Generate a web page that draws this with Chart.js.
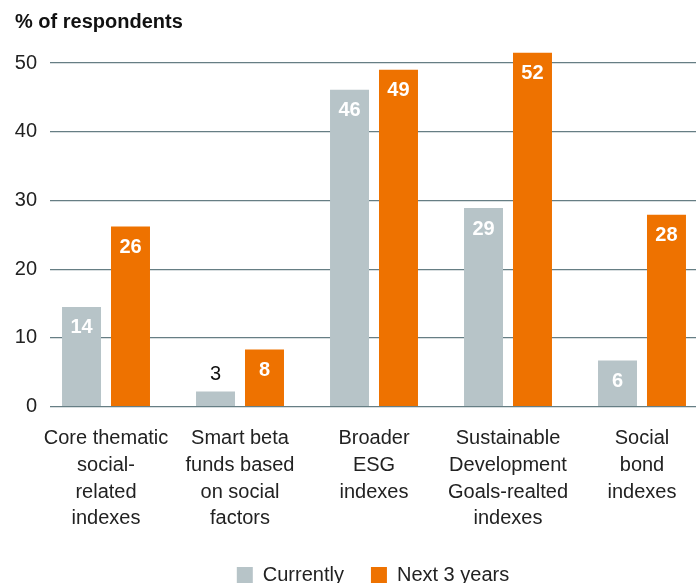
<!DOCTYPE html>
<html>
<head>
<meta charset="utf-8">
<script src="https://cdn.jsdelivr.net/npm/chart.js@4/dist/chart.umd.min.js"></script>
<style>
  html, body { margin: 0; padding: 0; background: #ffffff; overflow: hidden; }
  #wrap { position: relative; width: 696px; height: 608px; }
</style>
</head>
<body>
<div id="wrap"><canvas id="c"></canvas></div>
<script>
// ---- Data ----
const categories = [
  ["Core thematic", "social-", "related", "indexes"],
  ["Smart beta", "funds based", "on social", "factors"],
  ["Broader", "ESG", "indexes"],
  ["Sustainable", "Development", "Goals-realted", "indexes"],
  ["Social", "bond", "indexes"]
];
const seriesNames = ["Currently", "Next 3 years"];
const currentlyValues = [14.5, 2.2, 46.1, 28.9, 6.7];
const nextValues = [26.2, 8.3, 49.0, 51.5, 27.9];
const currentlyLabels = [14, 3, 46, 29, 6];
const nextLabels = [26, 8, 49, 52, 28];
const yTicks = [0, 10, 20, 30, 40, 50];
const titleText = "% of respondents";

const GRAY = "#b7c4c8";
const ORANGE = "#ee7200";
const GRID = "#667e84";
const TEXT = "#222222";
const FONT = "'Liberation Sans', Arial, Helvetica, sans-serif";

const toPoints = (vals) => vals.map((v, i) => ({ x: i, y: v }));

const barLabels = {
  id: "barLabels",
  afterDatasetsDraw(chart) {
    const ctx = chart.ctx;
    const labelSets = [currentlyLabels, nextLabels];
    chart.data.datasets.forEach((ds, di) => {
      const meta = chart.getDatasetMeta(di);
      meta.data.forEach((bar, i) => {
        const txt = String(labelSets[di][i]);
        const h = bar.base - bar.y;
        ctx.save();
        ctx.textAlign = "center";
        ctx.textBaseline = "middle";
        if (h < 30) {
          ctx.fillStyle = "#111111";
          ctx.font = "20px " + FONT;
          ctx.fillText(txt, bar.x, bar.y - 17);
        } else {
          ctx.fillStyle = "#ffffff";
          ctx.font = "bold 20px " + FONT;
          ctx.fillText(txt, bar.x, bar.y + 21);
        }
        ctx.restore();
      });
    });
  }
};

// nudge the legend a little upwards after layout
const legendShift = {
  id: "legendShift",
  afterLayout(chart) {
    if (chart.legend) {
      chart.legend.top -= 13;
      chart.legend.bottom -= 13;
    }
  }
};

new Chart(document.getElementById("c"), {
  type: "bar",
  data: {
    datasets: [
      { label: seriesNames[0], data: toPoints(currentlyValues), backgroundColor: GRAY, clip: false,
        categoryPercentage: 0.731, barPercentage: 0.796 },
      { label: seriesNames[1], data: toPoints(nextValues), backgroundColor: ORANGE, clip: false,
        categoryPercentage: 0.731, barPercentage: 0.796 }
    ]
  },
  options: {
    responsive: true,
    maintainAspectRatio: false,
    animation: false,
    layout: { padding: { left: 15, right: 0, top: 0, bottom: 0 } },
    plugins: {
      title: {
        display: true,
        text: titleText,
        align: "start",
        color: "#111111",
        font: { family: FONT, size: 20, weight: "bold" },
        padding: { top: 10, bottom: 29 }
      },
      legend: {
        position: "bottom",
        fullSize: false,
        labels: {
          boxWidth: 16,
          boxHeight: 16,
          padding: 27,
          color: TEXT,
          font: { family: FONT, size: 20 }
        }
      },
      tooltip: { enabled: false }
    },
    scales: {
      x: {
        type: "linear",
        offset: false,
        min: -0.418,
        max: 4.403,
        grid: { display: false, drawTicks: false },
        border: { display: false },
        afterBuildTicks: (scale) => { scale.ticks = categories.map((_, i) => ({ value: i })); },
        afterFit: (scale) => { scale.paddingLeft = 0; scale.paddingRight = 0; },
        ticks: {
          autoSkip: false,
          maxRotation: 0,
          padding: 19,
          color: TEXT,
          font: { family: FONT, size: 20, lineHeight: 1.33 },
          callback: (v) => categories[v]
        }
      },
      y: {
        min: 0,
        max: 50,
        afterBuildTicks: (scale) => { scale.ticks = yTicks.map(v => ({ value: v })); },
        afterFit: (scale) => { scale.width = 35; },
        grid: { color: GRID, lineWidth: 1.3, drawTicks: false },
        border: { display: false },
        ticks: {
          padding: 13,
          color: TEXT,
          font: { family: FONT, size: 20 }
        }
      }
    }
  },
  plugins: [barLabels, legendShift]
});
</script>
</body>
</html>
